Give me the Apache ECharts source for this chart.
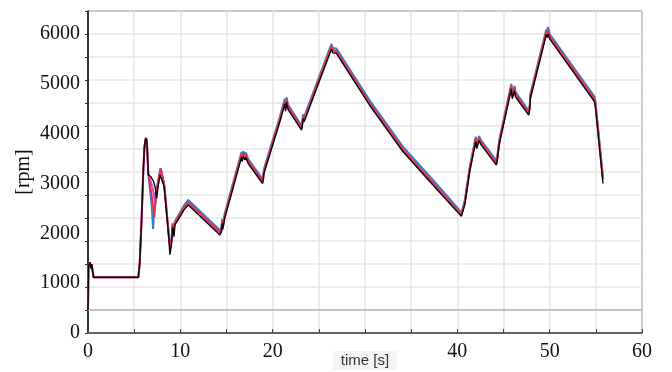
<!DOCTYPE html>
<html>
<head>
<meta charset="utf-8">
<script src="https://cdn.jsdelivr.net/npm/echarts@6/dist/echarts.min.js"></script>
<style>html,body{margin:0;padding:0;background:#fff}#c{width:672px;height:372px}</style>
</head>
<body>
<div id="c"></div>
<script>
// x ticks (s) and y label ticks (rpm)
const xTicks = [0, 10, 20, 30, 40, 50, 60];
const yLabelTicks = [0, 1000, 2000, 3000, 4000, 5000, 6000];
const refLine = [461.5];

// [time s, speed rpm]
const blackSeries = [
 [0,460],[0.05,1330],[0.2,1420],[0.3,1300],[0.4,1380],[0.6,1118],[5.45,1118],[5.6,1400],[5.8,2270],[6.0,3300],[6.1,3700],[6.2,3860],[6.28,3910],[6.35,3860],[6.4,3740],[6.53,3170],
 [6.8,3140],[7.1,3040],[7.3,2900],[7.43,2700],[7.6,2950],[7.8,3170],[7.95,3210],[8.25,2940],[8.58,2270],[8.77,1870],[8.87,1570],[8.95,1560],[9.06,1800],[9.16,2130],[9.25,2070],[9.31,1930],[9.42,2170],[9.6,2200],
 [10.4,2470],[10.86,2570],[11.04,2560],[14.29,1968],[14.45,2030],[14.54,2200],[14.6,2080],[14.8,2300],[16.63,3530],[16.7,3440],[16.81,3550],[16.99,3470],[17.1,3520],[17.35,3400],
 [18.91,3000],[19.0,3100],[19.05,3200],[19.15,3170],[20.78,4240],[21.32,4600],[21.4,4450],[21.5,4630],[21.68,4480],[23.13,4070],[23.2,4150],[23.3,4300],[23.4,4240],
 [26.37,5700],[26.5,5620],[26.9,5610],[30.5,4570],[34.1,3640],[37.7,2900],[40.44,2340],[40.8,2570],[41.34,3240],[41.99,3840],[42.1,3700],[42.35,3860],[42.6,3770],
 [44.23,3370],[44.35,3500],[44.48,3700],[44.6,3840],[45.85,4900],[45.95,4700],[46.2,4860],[46.3,4740],[47.73,4370],[47.85,4500],[47.9,4700],
 [49.64,5990],[49.72,5930],[49.82,6000],[50.0,5900],[54.87,4640],[54.98,4500],[55.77,3000]
];
const blueSeries = [
 [0,460],[0.05,1330],[0.2,1420],[0.3,1300],[0.4,1380],[0.6,1118],[5.45,1118],[5.6,1400],[5.8,2270],[6.0,3300],[6.1,3700],[6.2,3870],[6.28,3920],[6.35,3870],[6.4,3760],[6.53,3200],
 [6.7,2900],[6.9,2550],[7.05,2090],[7.15,2450],[7.3,2800],[7.5,2950],[7.7,3150],[7.86,3300],[7.95,3240],[8.25,2990],[8.58,2330],[8.77,1930],[8.9,1720],[9.06,1900],[9.16,2200],[9.3,2150],[9.42,2240],[9.6,2270],
 [10.4,2560],[10.86,2670],[11.04,2650],[14.29,2060],[14.45,2120],[14.54,2290],[14.6,2170],[14.8,2390],[16.63,3630],[16.7,3540],[16.81,3650],[16.99,3570],[17.1,3620],[17.35,3490],
 [18.91,3090],[19.0,3190],[19.05,3290],[19.15,3260],[20.78,4340],[21.32,4700],[21.4,4550],[21.5,4730],[21.68,4580],[23.13,4160],[23.2,4240],[23.3,4390],[23.4,4330],
 [26.37,5800],[26.5,5720],[26.9,5710],[30.5,4670],[34.1,3740],[37.7,3000],[40.44,2420],[40.8,2660],[41.34,3330],[41.99,3940],[42.1,3800],[42.35,3950],[42.6,3860],
 [44.23,3460],[44.35,3590],[44.48,3790],[44.6,3930],[45.85,5000],[45.95,4800],[46.2,4960],[46.3,4840],[47.73,4460],[47.85,4590],[47.9,4790],
 [49.64,6090],[49.72,6030],[49.82,6140],[50.0,6000],[54.87,4740],[54.98,4600],[55.77,3140]
];
const magentaSeries = [
 [0,460],[0.05,1330],[0.2,1420],[0.3,1300],[0.4,1380],[0.6,1118],[5.45,1118],[5.6,1400],[5.8,2270],[6.0,3300],[6.1,3700],[6.2,3860],[6.28,3910],[6.35,3860],[6.4,3750],[6.53,3190],
 [6.7,3100],[7.0,2900],[7.3,2570],[7.4,2750],[7.6,3000],[7.86,3280],[7.95,3230],[8.25,2960],[8.58,2300],[8.77,1900],[8.9,1700],[9.06,1870],[9.16,2170],[9.3,2120],[9.42,2210],[9.6,2240],
 [10.4,2500],[10.86,2610],[11.04,2590],[14.29,2000],[14.45,2060],[14.54,2230],[14.6,2110],[14.8,2330],[16.63,3570],[16.7,3480],[16.81,3590],[16.99,3510],[17.1,3560],[17.35,3430],
 [18.91,3030],[19.0,3130],[19.05,3230],[19.15,3200],[20.78,4280],[21.32,4640],[21.4,4490],[21.5,4670],[21.68,4520],[23.13,4100],[23.2,4180],[23.3,4330],[23.4,4270],
 [26.37,5740],[26.5,5660],[26.9,5640],[30.5,4600],[34.1,3670],[37.7,2930],[40.44,2370],[40.8,2600],[41.34,3270],[41.99,3880],[42.1,3740],[42.35,3890],[42.6,3800],
 [44.23,3400],[44.35,3530],[44.48,3730],[44.6,3870],[45.85,4940],[45.95,4740],[46.2,4900],[46.3,4780],[47.73,4400],[47.85,4530],[47.9,4730],
 [49.64,6030],[49.72,5970],[49.82,6060],[50.0,5940],[54.87,4680],[54.98,4540],[55.77,3080]
];
const redSeries = [
 [0,460],[0.05,1330],[0.2,1420],[0.3,1300],[0.4,1380],[0.6,1118],[5.45,1118],[5.6,1400],[5.8,2270],[6.0,3300],[6.1,3700],[6.2,3860],[6.28,3910],[6.35,3860],[6.4,3750],[6.53,3200],
 [6.7,3000],[6.9,2750],[7.2,2330],[7.3,2600],[7.5,2950],[7.7,3150],[7.86,3300],[7.95,3240],[8.25,2970],[8.58,2310],[8.77,1910],[8.9,1710],[9.06,1880],[9.16,2180],[9.3,2130],[9.42,2220],[9.6,2250],
 [10.4,2520],[10.86,2630],[11.04,2610],[14.29,2020],[14.45,2080],[14.54,2250],[14.6,2130],[14.8,2350],[16.63,3590],[16.7,3500],[16.81,3610],[16.99,3530],[17.1,3580],[17.35,3450],
 [18.91,3050],[19.0,3150],[19.05,3250],[19.15,3220],[20.78,4300],[21.32,4660],[21.4,4510],[21.5,4690],[21.68,4540],[23.13,4120],[23.2,4200],[23.3,4350],[23.4,4290],
 [26.37,5760],[26.5,5680],[26.9,5660],[30.5,4620],[34.1,3690],[37.7,2950],[40.44,2380],[40.8,2620],[41.34,3290],[41.99,3900],[42.1,3760],[42.35,3910],[42.6,3820],
 [44.23,3420],[44.35,3550],[44.48,3750],[44.6,3890],[45.85,4960],[45.95,4760],[46.2,4920],[46.3,4800],[47.73,4420],[47.85,4550],[47.9,4750],
 [49.64,6050],[49.72,5990],[49.82,6090],[50.0,5960],[54.87,4700],[54.98,4560],[55.77,3100]
];

const chart = echarts.init(document.getElementById('c'), null, {renderer: 'canvas'});
const serif = 'Liberation Serif, Times New Roman, serif';
const gridColor = '#e6e6e6';
function line(name, data, color, width, z) {
  return {name, type: 'line', data, showSymbol: false, symbol: 'none', z,
    lineStyle: {color, width}, itemStyle: {color}, animation: false};
}
const blk = line('black', blackSeries, '#0a0508', 1.4, 5);
blk.markLine = {silent: true, symbol: 'none', label: {show: false}, animation: false,
  lineStyle: {color: '#b4b4b4', type: 'solid', width: 1.5}, data: refLine.map(v => ({yAxis: v}))};
chart.setOption({
  animation: false,
  grid: {left: 88, right: 30, top: 11, bottom: 39, show: true, borderColor: '#000', borderWidth: 1,
    containLabel: false, outerBoundsMode: 'none'},
  xAxis: {
    type: 'value', min: 0, max: 60, interval: 5,
    name: 'time [s]', nameLocation: 'middle', nameGap: 18, nameMoveOverlap: false,
    nameTextStyle: {fontFamily: 'Liberation Sans, Arial, sans-serif', fontSize: 15, color: '#333',
      backgroundColor: '#f4f4f4', padding: [2, 8, 2, 8]},
    axisLine: {show: true, lineStyle: {color: '#666', width: 2}},
    axisTick: {show: true, inside: true, length: 4, lineStyle: {color: '#444'}},
    axisLabel: {fontFamily: serif, fontSize: 20, color: '#111', margin: 9,
      formatter: v => (xTicks.includes(v) && v !== 30) ? String(v) : ''},
    splitLine: {show: true, lineStyle: {color: gridColor, width: 1.5}}
  },
  yAxis: [
    {type: 'value', min: 0, max: 6461, interval: 461.5,
     name: '[rpm]', nameLocation: 'middle', nameGap: 54, nameRotate: 90, nameMoveOverlap: false,
     nameTextStyle: {fontFamily: serif, fontSize: 20, color: '#111'},
     axisLine: {show: true, lineStyle: {color: '#000', width: 1.5}},
     axisTick: {show: true, inside: false, length: 3, lineStyle: {color: '#333'}},
     axisLabel: {show: false},
     splitLine: {show: true, lineStyle: {color: gridColor, width: 1.5}}},
    {type: 'value', min: 0, max: 6461, interval: 1000, position: 'left',
     axisLine: {show: false}, axisTick: {show: false}, splitLine: {show: false},
     axisLabel: {fontFamily: serif, fontSize: 20, color: '#111', margin: 8,
       formatter: v => yLabelTicks.includes(v) ? String(v) : ''}}
  ],
  series: [
    line('blue', blueSeries, '#2f7fd6', 2, 2),
    line('magenta', magentaSeries, '#c94fc6', 2, 3),
    line('red', redSeries, '#ee2f3c', 1.8, 4),
    blk
  ]
});
</script>
</body>
</html>
